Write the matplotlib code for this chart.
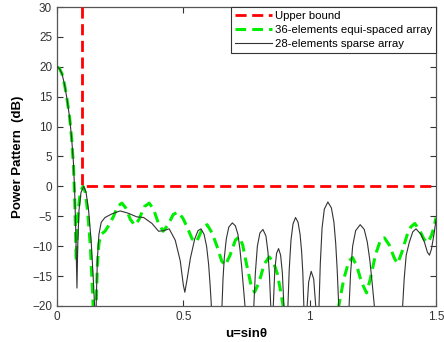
import matplotlib
matplotlib.use("Agg")
import matplotlib.pyplot as plt

plt.rcParams["font.family"] = ["Liberation Sans", "DejaVu Sans"]

# Upper bound mask
mask_u = [0.1, 0.1, 1.5]
mask_db = [30, 0, 0]

# 36-element equi-spaced array
equi_u = [0.000, 0.010, 0.020, 0.030, 0.040, 0.050, 0.058, 0.065, 0.070, 0.073,
          0.076, 0.079, 0.084, 0.092, 0.103, 0.112, 0.122, 0.132, 0.140, 0.145,
          0.150, 0.155, 0.160, 0.166, 0.175, 0.190, 0.205, 0.224, 0.240, 0.257,
          0.272, 0.290, 0.308, 0.325, 0.345, 0.365, 0.382, 0.400, 0.420, 0.440,
          0.460, 0.479, 0.498, 0.515, 0.535, 0.552, 0.572, 0.594, 0.614, 0.634,
          0.652, 0.666, 0.685, 0.706, 0.721, 0.735, 0.750, 0.768, 0.782, 0.800,
          0.820, 0.840, 0.856, 0.872, 0.885, 0.895, 0.920, 1.090, 1.115, 1.135,
          1.155, 1.170, 1.188, 1.205, 1.225, 1.240, 1.260, 1.280, 1.296, 1.315,
          1.335, 1.348, 1.365, 1.385, 1.400, 1.416, 1.435, 1.452, 1.467, 1.482,
          1.492, 1.500]
equi_db = [20.0, 19.7, 18.8, 17.0, 14.5, 11.5, 8.0, 3.5, -2.0, -7.0,
           -12.5, -9.0, -4.0, -1.0, 0.0, -1.0, -4.5, -10.0, -17.0, -22.0,
           -26.0, -20.0, -13.0, -9.5, -8.0, -7.5, -6.5, -5.0, -3.3, -2.8,
           -3.6, -5.5, -6.5, -5.5, -3.4, -2.8, -3.8, -6.0, -7.5, -6.4,
           -4.7, -4.3, -5.3, -6.8, -8.8, -9.3, -7.4, -6.4, -7.8, -10.1,
           -12.5, -13.2, -11.5, -9.0, -8.4, -9.8, -13.0, -16.5, -17.7, -16.0,
           -13.0, -11.8, -12.6, -14.6, -17.5, -20.0, -30.0, -30.0, -20.0, -15.5,
           -12.5, -11.9, -13.5, -16.0, -17.8, -15.5, -11.5, -9.0, -8.6, -9.8,
           -12.0, -12.9, -11.0, -8.2, -6.8, -6.2, -7.3, -8.8, -9.4, -8.2,
           -6.8, -5.2]

# 28-element sparse array
sparse_u = [0.000, 0.010, 0.020, 0.030, 0.040, 0.050, 0.058, 0.065, 0.070, 0.074,
            0.077, 0.079, 0.082, 0.087, 0.095, 0.106, 0.115, 0.125, 0.135, 0.143,
            0.150, 0.153, 0.156, 0.160, 0.166, 0.175, 0.190, 0.217, 0.250, 0.283,
            0.316, 0.343, 0.376, 0.402, 0.422, 0.444, 0.468, 0.488, 0.500, 0.506,
            0.515, 0.528, 0.545, 0.558, 0.570, 0.582, 0.592, 0.600, 0.606, 0.611,
            0.620, 0.645, 0.653, 0.657, 0.662, 0.670, 0.680, 0.694, 0.706, 0.716,
            0.724, 0.731, 0.738, 0.744, 0.760, 0.779, 0.785, 0.793, 0.803, 0.815,
            0.827, 0.835, 0.841, 0.846, 0.851, 0.856, 0.862, 0.869, 0.877, 0.885,
            0.892, 0.898, 0.906, 0.914, 0.919, 0.926, 0.934, 0.944, 0.954, 0.962,
            0.968, 0.973, 0.977, 0.983, 0.990, 0.996, 1.006, 1.016, 1.024, 1.030,
            1.037, 1.042, 1.049, 1.058, 1.072, 1.086, 1.096, 1.103, 1.109, 1.115,
            1.135, 1.156, 1.162, 1.170, 1.182, 1.200, 1.216, 1.228, 1.238, 1.247,
            1.256, 1.310, 1.368, 1.374, 1.382, 1.394, 1.408, 1.421, 1.440, 1.454,
            1.466, 1.474, 1.482, 1.492, 1.500]
sparse_db = [20.0, 19.7, 18.8, 17.0, 14.5, 11.5, 8.0, 4.0, -1.0, -7.0,
             -13.0, -17.0, -10.0, -4.0, -1.0, 0.0, -1.0, -4.0, -9.0, -15.0,
             -21.0, -25.0, -18.0, -12.0, -8.0, -6.0, -5.2, -4.6, -4.1, -4.5,
             -5.1, -5.2, -6.2, -7.5, -7.4, -7.1, -9.0, -12.5, -16.5, -17.7,
             -15.5, -12.0, -8.8, -7.4, -7.1, -8.0, -10.0, -13.0, -16.5, -20.0,
             -28.0, -28.0, -20.0, -15.5, -12.0, -8.8, -6.8, -6.1, -6.6, -8.0,
             -10.5, -13.5, -17.0, -20.0, -28.0, -20.0, -14.5, -10.0, -7.8, -7.2,
             -8.3, -11.0, -15.0, -20.0, -26.0, -20.0, -14.0, -11.2, -10.4, -11.5,
             -14.5, -20.0, -26.0, -20.0, -14.0, -9.0, -6.3, -5.2, -6.0, -8.0,
             -10.8, -14.5, -20.0, -26.0, -20.0, -16.0, -14.2, -15.5, -20.0, -26.0,
             -20.0, -13.0, -7.0, -3.8, -2.6, -3.6, -6.0, -9.5, -14.0, -20.0,
             -28.0, -20.0, -14.5, -10.0, -7.4, -6.4, -7.2, -9.3, -12.3, -16.0,
             -20.0, -28.0, -20.0, -15.5, -11.5, -9.4, -7.6, -7.1, -8.0, -9.3,
             -11.0, -11.5, -10.5, -8.0, -5.6]

x_ticks = [0, 0.5, 1, 1.5]
x_labels = ["0", "0.5", "1", "1.5"]

fig = plt.figure(figsize=(4.44, 3.42), dpi=100)
ax = fig.add_axes([57 / 444, 1 - 306 / 342, (436 - 57) / 444, (306 - 7) / 342])

ax.plot(mask_u, mask_db, color="#ff0000", lw=2.0, dashes=(4, 2),
        label="Upper bound", zorder=3)
ax.plot(equi_u, equi_db, color="#00ee00", lw=2.2, dashes=(3.5, 2),
        label="36-elements equi-spaced array", zorder=2)
ax.plot(sparse_u, sparse_db, color="#333333", lw=0.8,
        label="28-elements sparse array", zorder=4)

ax.set_xlim(0, 1.5)
ax.set_ylim(-20, 30)
ax.set_xticks(x_ticks)
ax.set_xticklabels(x_labels)
ax.set_yticks(range(-20, 31, 5))
ax.tick_params(direction="in", top=True, right=True, length=4, width=0.8,
               labelsize=8.5, colors="#333333", labelcolor="#333333")
for s in ax.spines.values():
    s.set_color("#555555")
    s.set_linewidth(0.9)

ax.set_xlabel("u=sinθ", fontsize=9.5, fontweight="bold", labelpad=4)
ax.set_ylabel("Power Pattern  (dB)", fontsize=9.5, fontweight="bold", labelpad=6)

leg = ax.legend(loc="upper right", borderaxespad=0, fontsize=8.2,
                handlelength=3.3, handletextpad=0.2, labelspacing=0.35,
                fancybox=False, framealpha=1, borderpad=0.35)
leg.get_frame().set_edgecolor("#333333")
leg.get_frame().set_linewidth(0.8)

fig.savefig("out.png", dpi=100)
